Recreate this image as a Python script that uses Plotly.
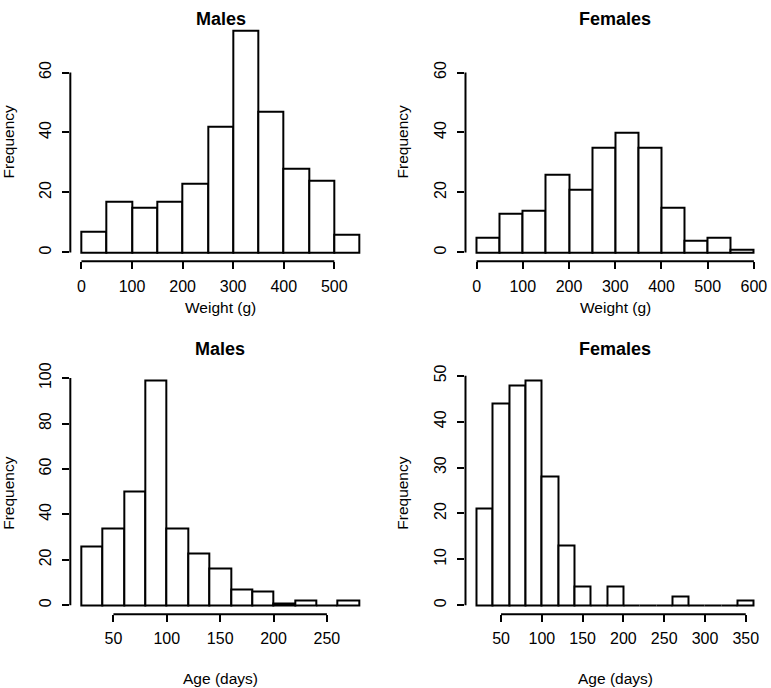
import plotly.graph_objects as go

# ---------------- data ----------------
weight_bin_width = 50
male_weight_start = 0
male_weight_counts = [7, 17, 15, 17, 23, 42, 74, 47, 28, 24, 6]
female_weight_start = 0
female_weight_counts = [5, 13, 14, 26, 21, 35, 40, 35, 15, 4, 5, 1]

age_bin_width = 20
male_age_start = 20
male_age_counts = [26, 34, 50, 99, 34, 23, 16, 7, 6, 1, 2, 0, 2]
female_age_start = 20
female_age_counts = [21, 44, 48, 49, 28, 13, 4, 0, 4, 0, 0, 0, 2, 0, 0, 0, 1]

male_weight_xticks = [0, 100, 200, 300, 400, 500]
female_weight_xticks = [0, 100, 200, 300, 400, 500, 600]
male_age_xticks = [50, 100, 150, 200, 250]
female_age_xticks = [50, 100, 150, 200, 250, 300, 350]
weight_yticks = [0, 20, 40, 60]
male_age_yticks = [0, 20, 40, 60, 80, 100]
female_age_yticks = [0, 10, 20, 30, 40, 50]
weight_ylim_max = 74  # shared ylim for weight panels

titles = ["Males", "Females", "Males", "Females"]
xlabels = ["Weight (g)", "Weight (g)", "Age (days)", "Age (days)"]
ylabel = "Frequency"

# ---------------- layout (pixels) ----------------
W, H = 771, 688
FONT = "Liberation Sans, Arial, Helvetica, sans-serif"

panels = [
    dict(start=male_weight_start, bw=weight_bin_width, counts=male_weight_counts,
         xticks=male_weight_xticks, yticks=weight_yticks, ymax=weight_ylim_max,
         px=(70.5, 371.7), py=(12.8, 255.7), ylab_x=9, xlab_dy=47.0, title_y=10),
    dict(start=female_weight_start, bw=weight_bin_width, counts=female_weight_counts,
         xticks=female_weight_xticks, yticks=weight_yticks, ymax=weight_ylim_max,
         px=(466.7, 767.0), py=(12.8, 255.7), ylab_x=404, xlab_dy=47.0, title_y=10),
    dict(start=male_age_start, bw=age_bin_width, counts=male_age_counts,
         xticks=male_age_xticks, yticks=male_age_yticks, ymax=None,
         px=(70.5, 371.0), py=(367.2, 613.2), ylab_x=9, xlab_dy=65, title_y=344),
    dict(start=female_age_start, bw=age_bin_width, counts=female_age_counts,
         xticks=female_age_xticks, yticks=female_age_yticks, ymax=None,
         px=(466.7, 767.0), py=(367.2, 613.2), ylab_x=404, xlab_dy=65, title_y=344),
]

fig = go.Figure()
shapes = []
annotations = []
layout = {}

for i, p in enumerate(panels):
    n = i + 1
    xa = "xaxis" if n == 1 else f"xaxis{n}"
    ya = "yaxis" if n == 1 else f"yaxis{n}"
    xr = "x" if n == 1 else f"x{n}"
    yr = "y" if n == 1 else f"y{n}"

    counts = p["counts"]
    bw = p["bw"]
    edges = [p["start"] + k * bw for k in range(len(counts) + 1)]
    centers = [(edges[k] + edges[k + 1]) / 2 for k in range(len(counts))]
    x0, x1 = edges[0], edges[-1]
    ymax = p["ymax"] if p["ymax"] is not None else max(counts)
    dx = 0.04 * (x1 - x0)
    dy = 0.04 * ymax

    fig.add_trace(go.Bar(
        x=centers, y=counts, width=[bw] * len(counts),
        marker=dict(color="white", line=dict(color="black", width=2)),
        xaxis=xr, yaxis=yr, showlegend=False, hoverinfo="x+y",
    ))

    common = dict(showgrid=False, zeroline=False, showline=False,
                  ticks="outside", ticklen=7, tickwidth=2, tickcolor="black",
                  tickfont=dict(family=FONT, size=16, color="black"),
                  fixedrange=True)
    layout[xa] = dict(common, domain=[p["px"][0] / W, p["px"][1] / W],
                      range=[x0 - dx, x1 + dx], anchor=yr,
                      tickmode="array", tickvals=p["xticks"],
                      ticklabelstandoff=3)
    layout[ya] = dict(common, domain=[1 - p["py"][1] / H, 1 - p["py"][0] / H],
                      range=[-dy, ymax + dy], anchor=xr,
                      tickmode="array", tickvals=p["yticks"], tickangle=-90,
                      ticklabelstandoff=5)

    # R-style axis lines spanning first to last tick
    shapes.append(dict(type="line", xref=xr, yref=f"{yr} domain",
                       x0=p["xticks"][0], x1=p["xticks"][-1], y0=0, y1=0,
                       line=dict(color="black", width=2)))
    shapes.append(dict(type="line", xref=f"{xr} domain", yref=yr,
                       x0=0, x1=0, y0=p["yticks"][0], y1=p["yticks"][-1],
                       line=dict(color="black", width=2)))

    cx = (p["px"][0] + p["px"][1]) / 2 / W
    annotations.append(dict(text=f"<b>{titles[i]}</b>", xref="paper", yref="paper",
                            x=cx, y=1 - p["title_y"] / H, xanchor="center", yanchor="middle",
                            showarrow=False, font=dict(family=FONT, size=18, color="black")))
    annotations.append(dict(text=xlabels[i], xref="paper", yref="paper",
                            x=cx, y=1 - (p["py"][1] + p["xlab_dy"]) / H,
                            xanchor="center", yanchor="middle",
                            showarrow=False, font=dict(family=FONT, size=15.5, color="black")))
    cy = (p["py"][0] + p["py"][1]) / 2 / H
    annotations.append(dict(text=ylabel, xref="paper", yref="paper",
                            x=p["ylab_x"] / W, y=1 - cy, xanchor="center", yanchor="middle",
                            textangle=-90, showarrow=False,
                            font=dict(family=FONT, size=15.5, color="black")))

fig.update_layout(
    width=W, height=H, margin=dict(l=0, r=0, t=0, b=0),
    paper_bgcolor="white", plot_bgcolor="white",
    shapes=shapes, annotations=annotations, bargap=0,
    **layout,
)

fig.write_html("out.html", config={"displayModeBar": False},
               post_script="document.body.style.margin='0';document.body.style.padding='0';")
